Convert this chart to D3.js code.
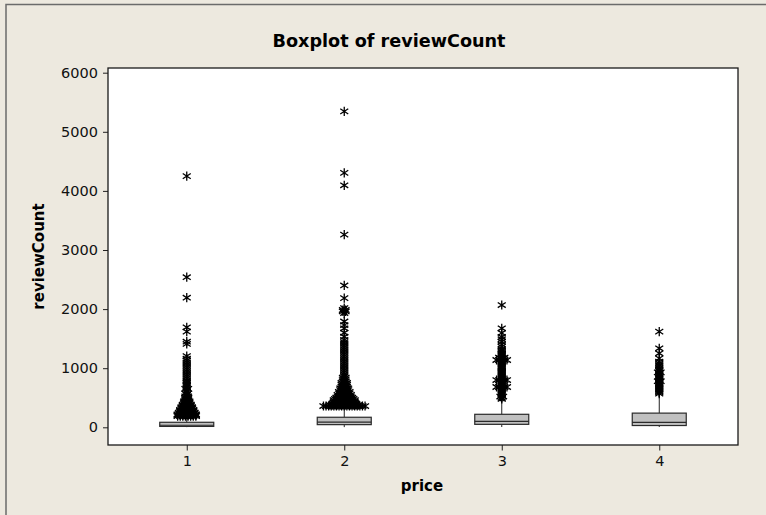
<!DOCTYPE html>
<html>
<head>
<meta charset="utf-8">
<script src="https://cdn.jsdelivr.net/npm/d3@7"></script>
<style>
  html, body { margin: 0; padding: 0; background: #EDE9DF; }
  svg { display: block; }
</style>
</head>
<body>
<svg id="chart" width="766" height="515"></svg>
<script>
// ---------------- DATA ----------------
const categories = ["1", "2", "3", "4"];
const yTicks = [0, 1000, 2000, 3000, 4000, 5000, 6000];

// box statistics per price level: [min, Q1, median, Q3, upper whisker]
const lowWhisker = [3, 3, 5, 5];
const q1 = [15, 45, 50, 30];
const median = [35, 88, 100, 85];
const q3 = [85, 170, 220, 240];
const highWhisker = [185, 340, 465, 540];

// outliers per price level: [value, number of tied points]
const outliers1 = [
  [190,8],[205,8],[220,8],[235,7],[250,7],[265,6],[280,6],[295,6],[310,5],[325,5],
  [340,5],[355,4],[370,4],[385,4],[400,3],[420,3],[440,3],[460,2],[480,2],[500,2],
  [525,2],[550,1],[575,2],[600,1],[625,1],[650,2],[675,1],[700,1],[725,1],[750,1],
  [775,1],[800,1],[830,1],[860,1],[890,1],[920,1],[950,1],[980,1],[1010,1],[1040,1],
  [1070,1],[1100,1],[1130,1],[1160,1],[1206,1],[1410,1],[1448,1],[1618,1],[1692,1],
  [2193,1],[2540,1],[4250,1]
];
const outliers2 = [
  [360,17],[380,12],[400,10],[420,9],[440,9],[460,9],[480,8],[500,7],[525,6],[550,6],
  [575,5],[600,5],[630,4],[660,4],[690,3],[720,3],[750,3],[780,2],[810,2],[840,2],
  [870,1],[900,1],[930,1],[960,1],[990,1],[1020,1],[1050,1],[1080,1],[1110,1],[1140,1],
  [1170,1],[1200,1],[1230,1],[1260,1],[1290,1],[1320,1],[1350,1],[1380,1],[1410,1],
  [1440,1],[1477,1],[1533,1],[1600,1],[1675,1],[1730,1],[1790,1],[1933,1],[1960,2],
  [1985,2],[2018,1],[2185,1],[2400,1],[3260,1],[4095,1],[4305,1],[5345,1]
];
const outliers3 = [
  [480,1],[500,1],[520,2],[540,1],[560,1],[580,1],[600,1],[620,1],[640,1],[660,1],
  [682,5],[700,1],[720,1],[740,1],[760,1],[780,1],[800,5],[820,1],[840,1],[860,1],
  [880,1],[900,1],[920,1],[940,1],[960,1],[980,1],[1000,1],[1020,1],[1040,1],[1060,1],
  [1080,1],[1100,1],[1120,1],[1139,5],[1160,1],[1180,3],[1200,1],[1220,1],[1240,1],
  [1260,1],[1280,1],[1300,1],[1320,1],[1364,1],[1400,1],[1448,1],[1490,1],[1528,1],
  [1596,1],[1675,1],[2069,1]
];
const outliers4 = [
  [570,1],[590,1],[610,1],[630,1],[650,1],[670,1],[690,1],[710,1],[730,1],[750,1],
  [780,2],[790,1],[810,1],[830,1],[850,1],[870,1],[890,1],[910,1],[930,2],[950,1],
  [975,1],[1000,1],[1030,1],[1054,1],[1080,1],[1110,1],[1167,1],[1252,1],[1337,1],
  [1618,1]
];
const outliers = [outliers1, outliers2, outliers3, outliers4];

// ---------------- LAYOUT ----------------
const svg = d3.select("#chart");
const W = 766, H = 515;
const plot = { left: 108, right: 738, top: 68, bottom: 445 };

const x = d3.scalePoint().domain(categories).range([plot.left, plot.right]).padding(0.5);
const y = d3.scaleLinear().domain([0, 6000]).range([427.3, 72.7]);

// background + outer frame
svg.append("rect").attr("x", 0).attr("y", 0).attr("width", W).attr("height", H).attr("fill", "#EDE9DF");
svg.append("rect").attr("x", 6).attr("y", 4.5).attr("width", W + 20).attr("height", H + 20)
  .attr("fill", "none").attr("stroke", "#6b6b6b").attr("stroke-width", 1.5);

// plot area
svg.append("rect").attr("x", plot.left).attr("y", plot.top)
  .attr("width", plot.right - plot.left).attr("height", plot.bottom - plot.top)
  .attr("fill", "#ffffff");

// title
svg.append("text").attr("x", 389).attr("y", 47).attr("text-anchor", "middle")
  .attr("font-family", "'DejaVu Sans', Verdana, sans-serif").attr("font-weight", "bold")
  .attr("font-size", 17).attr("textLength", 233).attr("lengthAdjust", "spacingAndGlyphs")
  .attr("fill", "#000").text("Boxplot of reviewCount");

// axes
const yAxis = d3.axisLeft(y).tickValues(yTicks).tickSize(5).tickPadding(5).tickFormat(d3.format("d"));
const gy = svg.append("g").attr("transform", `translate(${plot.left},0)`).call(yAxis);
gy.select(".domain").remove();
gy.selectAll("text").attr("font-family", "'DejaVu Sans', Verdana, sans-serif").attr("font-size", 14.5).attr("fill", "#111");
gy.selectAll("line").attr("stroke", "#222");

const xAxis = d3.axisBottom(x).tickSize(5.5).tickPadding(5);
const gx = svg.append("g").attr("transform", `translate(0,${plot.bottom})`).call(xAxis);
gx.select(".domain").remove();
gx.selectAll("text").attr("font-family", "'DejaVu Sans', Verdana, sans-serif").attr("font-size", 14.5).attr("fill", "#111");
gx.selectAll("line").attr("stroke", "#222");

// axis labels
svg.append("text").attr("transform", `translate(44,256.5) rotate(-90)`).attr("text-anchor", "middle")
  .attr("font-family", "'DejaVu Sans', Verdana, sans-serif").attr("font-weight", "bold")
  .attr("font-size", 15).attr("fill", "#000").text("reviewCount");
svg.append("text").attr("x", 422).attr("y", 491).attr("text-anchor", "middle")
  .attr("font-family", "'DejaVu Sans', Verdana, sans-serif").attr("font-weight", "bold")
  .attr("font-size", 15).attr("fill", "#000").text("price");

// boxes
const boxW = 54;
const gBox = svg.append("g");
categories.forEach((c, i) => {
  const cx = x(c);
  // whiskers
  gBox.append("line").attr("x1", cx).attr("x2", cx).attr("y1", y(q3[i])).attr("y2", y(highWhisker[i]))
    .attr("stroke", "#222").attr("stroke-width", 1);
  gBox.append("line").attr("x1", cx).attr("x2", cx).attr("y1", y(q1[i])).attr("y2", y(lowWhisker[i]))
    .attr("stroke", "#222").attr("stroke-width", 1);
  // box
  gBox.append("rect").attr("x", cx - boxW / 2).attr("y", y(q3[i]))
    .attr("width", boxW).attr("height", y(q1[i]) - y(q3[i]))
    .attr("fill", "#C0C0C0").attr("stroke", "#2a2a2a").attr("stroke-width", 1.2);
  // median
  gBox.append("line").attr("x1", cx - boxW / 2).attr("x2", cx + boxW / 2)
    .attr("y1", y(median[i])).attr("y2", y(median[i]))
    .attr("stroke", "#2a2a2a").attr("stroke-width", 1.2);
});

// outlier asterisks
const star = "M0,-4.6L0,4.6M-4,-2.6L4,2.6M-4,2.6L4,-2.6";
const gOut = svg.append("g");
const tieStep = 2.6;
categories.forEach((c, i) => {
  const cx = x(c);
  outliers[i].forEach(([v, n]) => {
    for (let k = 0; k < n; k++) {
      const dx = (k - (n - 1) / 2) * tieStep;
      gOut.append("path").attr("d", star)
        .attr("transform", `translate(${cx + dx},${y(v)})`)
        .attr("fill", "none").attr("stroke", "#000").attr("stroke-width", 1.3);
    }
  });
});

// plot frame on top
svg.append("rect").attr("x", plot.left).attr("y", plot.top)
  .attr("width", plot.right - plot.left).attr("height", plot.bottom - plot.top)
  .attr("fill", "none").attr("stroke", "#1a1a1a").attr("stroke-width", 1.3);
</script>
</body>
</html>
